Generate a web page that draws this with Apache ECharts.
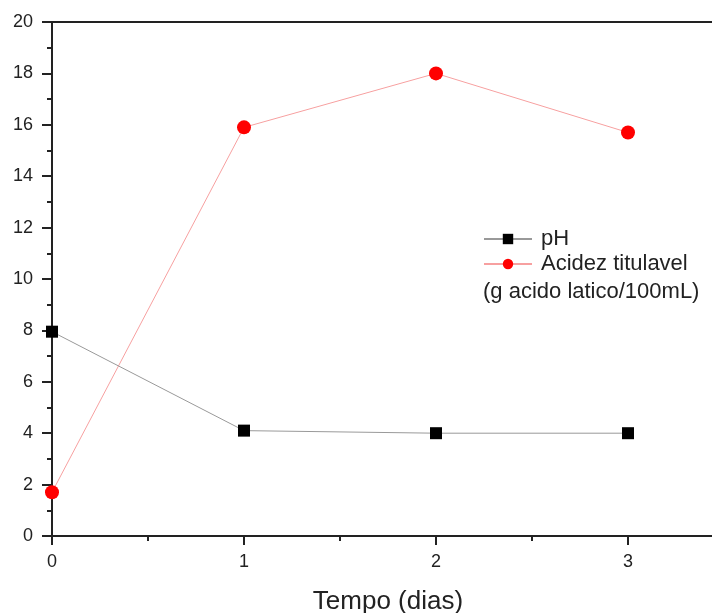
<!DOCTYPE html>
<html>
<head>
<meta charset="utf-8">
<script src="https://cdn.jsdelivr.net/npm/echarts@6/dist/echarts.min.js"></script>
<style>
  html, body { margin: 0; padding: 0; background: #fff; }
  #chart { width: 712px; height: 613px; }
</style>
</head>
<body>
<div id="chart"></div>
<script>
const days = [0, 1, 2, 3]
const ph = [7.95, 4.1, 4.0, 4.0]
const acidez = [1.7, 15.9, 18.0, 15.7]
const yTicks = [0, 2, 4, 6, 8, 10, 12, 14, 16, 18, 20]

const font = 'Liberation Sans, Arial, sans-serif'
const axisColor = '#222'

const option = {
  animation: false,
  textStyle: { fontFamily: font },
  grid: { left: 52, right: -12, top: 22, bottom: 77, outerBoundsMode: 'none' },
  legend: {
    left: 483, top: 228, padding: 0,
    orient: 'vertical',
    itemWidth: 48, itemHeight: 13, itemGap: 3,
    textStyle: { fontSize: 22, color: '#222', fontFamily: font, padding: [0, 0, 0, 4] },
    data: ['pH', 'Acidez titulavel']
  },
  graphic: [{
    type: 'text', left: 483, top: 281,
    style: { text: '(g acido latico/100mL)', fontSize: 22, fill: '#222', fontFamily: font }
  }],
  xAxis: [{
    type: 'value', min: 0, max: 3.5, interval: 1,
    name: 'Tempo (dias)', nameLocation: 'middle', nameGap: 53,
    nameTextStyle: { fontSize: 26, color: '#222', fontFamily: font },
    axisLine: { onZero: false, lineStyle: { color: axisColor, width: 2 } },
    axisTick: { inside: false, length: 9, lineStyle: { color: axisColor, width: 2 } },
    minorTick: { show: true, splitNumber: 2, length: 5, lineStyle: { color: axisColor, width: 2 } },
    axisLabel: {
      fontSize: 18, color: '#222', margin: 17,
      formatter: v => days.includes(v) ? String(v) : ''
    },
    splitLine: { show: false }
  }, {
    type: 'value', position: 'top', min: 0, max: 3.5,
    axisLine: { show: true, onZero: false, lineStyle: { color: axisColor, width: 2 } },
    axisTick: { show: false }, axisLabel: { show: false }, splitLine: { show: false }
  }],
  yAxis: {
    type: 'value', min: 0, max: 20, interval: 2,
    axisLine: { show: true, lineStyle: { color: axisColor, width: 2 } },
    axisTick: { show: true, length: 10, lineStyle: { color: axisColor, width: 2 } },
    minorTick: { show: true, splitNumber: 2, length: 5, lineStyle: { color: axisColor, width: 2 } },
    axisLabel: {
      fontSize: 18, color: '#222', margin: 19,
      formatter: v => yTicks.includes(v) ? String(v) : ''
    },
    splitLine: { show: false }
  },
  series: [{
    name: 'pH', type: 'line',
    data: days.map((d, i) => [d, ph[i]]),
    symbol: 'rect', symbolSize: 12,
    itemStyle: { color: '#000' },
    lineStyle: { color: '#999', width: 1 },
    z: 3
  }, {
    name: 'Acidez titulavel', type: 'line',
    data: days.map((d, i) => [d, acidez[i]]),
    symbol: 'circle', symbolSize: 14,
    itemStyle: { color: '#ff0000' },
    lineStyle: { color: '#f7a0a0', width: 1 },
    z: 2
  }]
}

const myChart = echarts.init(document.getElementById('chart'))
myChart.setOption(option)
</script>
</body>
</html>
